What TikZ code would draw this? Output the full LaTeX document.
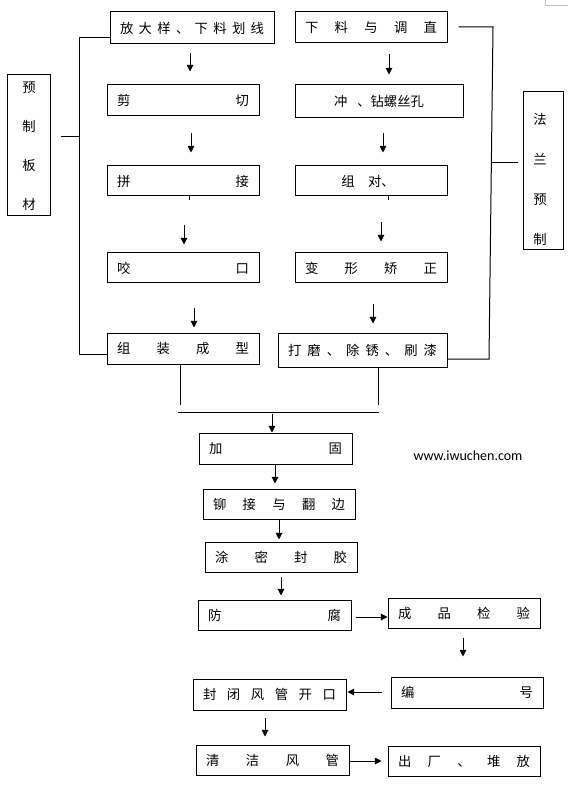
\documentclass[tikz,border=0pt]{standalone}
\usepackage{fontspec}
\newfontfamily\cjk{Noto Sans CJK SC}
\newfontfamily\urlfont{Carlito}
\usetikzlibrary{arrows.meta,calc}
\newlength\px \setlength\px{0.75pt}
\newlength\twd
\newcommand\bx[6]{%
 \pgfmathsetlength\twd{(#4-#2-20)*0.75pt}%
 \node[box, minimum width={(#4-#2)*0.75pt}, minimum height={(#5-#3)*0.75pt}] (#1) at ({(#2+#4)/2},{(#3+#5)/2}) {\makebox[\twd][s]{#6}};}
\newcommand\varr[5]{\coordinate (vx) at (#3,0); \draw[arr, shorten <=#4\px, shorten >=#5\px] (#1 -| vx) -- (#2 -| vx);}
\newcommand\harr[5]{\coordinate (hy) at (0,#3); \draw[arr, shorten <=#4\px, shorten >=#5\px] (#1 |- hy) -- (#2 |- hy);}
\begin{document}
\begin{tikzpicture}[x=0.75pt,y=-0.75pt,
 box/.style={draw, line width=0.75pt, inner sep=0pt, font=\cjk\fontsize{10pt}{12pt}\selectfont},
 vtext/.style={inner sep=0pt, align=center, font=\cjk\fontsize{10pt}{29.25pt}\selectfont},
 vtextb/.style={inner sep=0pt, align=center, font=\cjk\fontsize{10pt}{30pt}\selectfont},
 ln/.style={line width=0.75pt},
 arr/.style={line width=0.75pt, -{Triangle[length=5pt,width=5pt]}}]
\useasboundingbox (0,0) rectangle (580,787);
% left column
\bx{b1}{110}{12}{274}{44}{放\hfill 大\hfill 样\hfill 、\hfill 下\hfill 料\hfill 划\hfill 线}
\bx{b2}{107}{85}{259}{116}{剪\hfill 切}
\bx{b3}{107}{166}{259}{196}{拼\hfill 接}
\bx{b4}{107}{253}{259}{283}{咬\hfill 口}
\bx{b5}{107}{333}{259}{364}{组\hfill 装\hfill 成\hfill 型}
% right column
\bx{r1}{295}{12}{447}{43}{下\hfill 料\hfill 与\hfill 调\hfill 直}
\bx{r2}{295}{85}{463}{118}{\hfill 冲\hspace{7.5pt}、钻螺丝孔\hfill}
\bx{r3}{295}{166}{447}{196}{\hfill 组\hspace{10pt}对、\hspace{4.5pt}\hfill}
\bx{r4}{295}{253}{447}{283}{变\hfill 形\hfill 矫\hfill 正}
\bx{r5}{278}{333}{447}{367}{打\hfill 磨\hfill 、\hfill 除\hfill 锈\hfill 、\hfill 刷\hfill 漆}
% side boxes
\bx{p1}{7}{75}{50}{216}{}
\node[vtext] (p1t) at (29,146.5) {预\\制\\板\\材};
\bx{f1}{523}{92}{563}{250}{}
\node[vtextb] (f1t) at (540,179) {法\\兰\\预\\制};
% middle
\bx{m1}{199}{433}{352}{464}{加\hfill 固}
\bx{m2}{203}{489}{355}{519}{铆\hfill 接\hfill 与\hfill 翻\hfill 边}
\bx{m3}{205}{542}{357}{572}{涂\hfill 密\hfill 封\hfill 胶}
\bx{m4}{198}{600}{351}{630}{防\hfill 腐}
\bx{q1}{388}{598}{540}{628}{成\hfill 品\hfill 检\hfill 验}
\bx{q2}{391}{677}{543}{708}{编\hfill 号}
\bx{m5}{193}{679}{346}{710}{封\hfill 闭\hfill 风\hfill 管\hfill 开\hfill 口}
\bx{m6}{196}{745}{349}{775}{清\hfill 洁\hfill 风\hfill 管}
\bx{q3}{388}{746}{540}{776}{出\hfill 厂\hfill 、\hfill 堆\hfill 放}
\node[font=\urlfont\fontsize{10.5pt}{12pt}\selectfont, inner sep=0pt] (url) at (468,456) {www.iwuchen.com};
% left bracket
\coordinate (LT) at (79,38);
\coordinate (LB) at (79,354);
\coordinate (LM) at (79,137);
\draw[ln] (b1.west |- LT) -- (LT) -- (LB) -- (b5.west |- LB);
\draw[ln] ($(p1.east |- LM)+(10,0)$) -- (LM);
% right bracket
\coordinate (RT) at (493,27);
\coordinate (RB) at (489,359);
\coordinate (RM) at (492,163);
\draw[ln] ($(r1.east |- RT)+(11,0)$) -- (RT) -- (RB) -- (r5.east |- RB);
\draw[ln] (RM) -- ($(f1.west |- RM)+(-5,0)$);
% stubs
\coordinate (s1) at (189,0);
\coordinate (s2) at (388,0);
\draw[ln] (b3.south -| s1) -- ++(0,4);
\draw[ln] (r3.south -| s2) -- ++(0,4);
% junction
\coordinate (V1) at (180,405);
\coordinate (V2) at (378,405);
\coordinate (JL) at (178,412);
\coordinate (JR) at (379,412);
\coordinate (J) at (272,412);
\draw[ln] (b5.south -| V1) -- (V1);
\draw[ln] (r5.south -| V2) -- (V2);
\draw[ln] (JL) -- (JR);
\draw[arr, shorten <=2\px] (J) -- (m1.north -| J);
% arrows
\varr{b1.south}{b2.north}{190}{9}{13}
\varr{b2.south}{b3.north}{191}{17}{13}
\varr{b3.south}{b4.north}{184}{29}{8}
\varr{b4.south}{b5.north}{194}{25}{5}
\varr{r1.south}{r2.north}{389}{11}{10}
\varr{r2.south}{r3.north}{383}{15}{13}
\varr{r3.south}{r4.north}{381}{26}{11}
\varr{r4.south}{r5.north}{373}{21}{9}
\varr{m1.south}{m2.north}{275}{0}{5}
\varr{m2.south}{m3.north}{279}{0}{2}
\varr{m3.south}{m4.north}{281}{4}{4}
\harr{m4.east}{q1.west}{617}{4}{0}
\varr{q1.south}{q2.north}{463}{9}{20}
\harr{q2.west}{m5.east}{692}{9}{1}
\varr{m5.south}{m6.north}{265}{7}{8}
\harr{m6.east}{q3.west}{761}{0}{6}
% corner mark
\draw[gray!50, line width=0.75pt] (545,0) -- (545,6) -- (568,6);
\end{tikzpicture}
\end{document}
